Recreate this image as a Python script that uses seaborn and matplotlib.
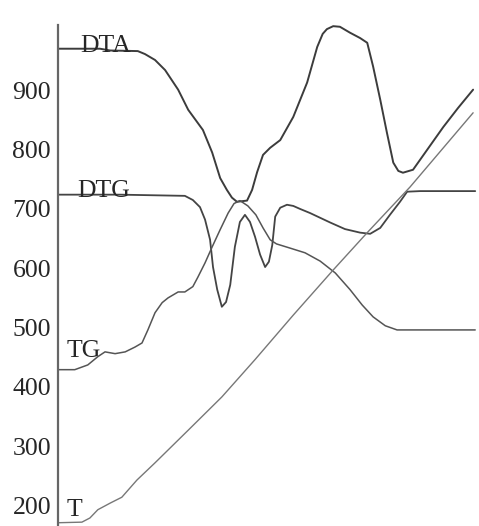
import numpy as np
import matplotlib.pyplot as plt
import pandas as pd
import seaborn as sns

# Thermal analysis curves (arbitrary x units)
dta_x = [0, 10, 12.4, 19, 20.7, 23.1, 25.5, 28.6, 31, 34.5, 36.7, 38.6, 40.2, 41.4,
         42.6, 45, 46.2, 47.4, 48.8, 50.5, 52.9, 56, 59.3, 61.7, 63, 64, 65.5, 67.1, 69.5,
         71.9, 73.6, 75, 76.7, 78.3, 79.8, 81, 82.1, 84.5, 87.9, 91.7, 95.2, 98.8]
dta_y = [970, 970, 967, 966, 961, 951, 934, 901, 867, 833, 795, 752, 732, 719,
         712, 714, 732, 762, 791, 803, 816, 855, 913, 973, 995, 1003, 1008, 1007, 997,
         988, 980, 940, 884, 828, 778, 764, 761, 766, 800, 838, 870, 901]

dtg_x = [0, 14.8, 30.2, 32.1, 33.8, 35, 36.2, 36.9, 37.9, 39, 40, 41, 42.1, 43.3,
         44.5, 45.7, 46.9, 48.1, 49.3, 50.2, 51, 51.7, 52.9, 54.5, 56, 57.6, 60,
         62.4, 64.8, 68.3, 71.9, 74.3, 76.7, 79, 81.4, 83.1, 86.2, 92.1, 99.3]
dtg_y = [724, 724, 722, 715, 703, 682, 648, 602, 564, 535, 543, 572, 636, 678,
         690, 678, 653, 623, 602, 611, 639, 687, 702, 707, 705, 700, 693,
         685, 677, 666, 660, 658, 668, 690, 712, 729, 730, 730, 730]

tg_x = [0, 4, 7.1, 9.5, 11.2, 13.6, 16, 18.3, 20, 21.4, 23.1, 24.8, 26.2, 28.6,
        30.2, 32.1, 33.3, 35, 36.7, 38.6, 40.5, 41.9, 43.3, 45.2, 47.1, 48.8,
        50.5, 52, 55.2, 58.8, 62.4, 66, 69.5, 72.4, 75, 77.9, 80.7, 85.5, 99.3]
tg_y = [429, 429, 437, 451, 459, 456, 459, 467, 474, 496, 525, 542, 550, 560,
        560, 569, 585, 609, 636, 665, 693, 709, 714, 705, 690, 668,
        648, 641, 634, 626, 612, 592, 564, 538, 518, 503, 496, 496, 496]

t_x = [0, 5.7, 7.6, 9.5, 12.4, 15.2, 18.8, 23.1, 31, 39, 46.9, 56, 65.5, 73.6,
       83.8, 98.8]
t_y = [171, 172, 179, 193, 204, 214, 243, 272, 327, 383, 446, 521, 597, 660,
       737, 862]

yticks = [200, 300, 400, 500, 600, 700, 800, 900]

sns.set_style('white')
plt.rcParams['font.family'] = ['Liberation Serif', 'DejaVu Serif']

fig = plt.figure(figsize=(4.79, 5.26), dpi=100)
ax = fig.add_axes([0.121, 0.0, 0.879, 0.9525])

sns.lineplot(x=dta_x, y=dta_y, ax=ax, color='#3c3c3c', lw=1.4, estimator=None, sort=False)
sns.lineplot(x=dtg_x, y=dtg_y, ax=ax, color='#444444', lw=1.3, estimator=None, sort=False)
sns.lineplot(x=tg_x, y=tg_y, ax=ax, color='#555555', lw=1.1, estimator=None, sort=False)
sns.lineplot(x=t_x, y=t_y, ax=ax, color='#777777', lw=1.0, estimator=None, sort=False)

ax.set_xlim(0, 100.2)
ax.set_ylim(165.5, 1010)
ax.set_xticks([])
ax.set_yticks(yticks)
ax.set_yticklabels([str(v) for v in yticks], fontsize=18.5)
ax.tick_params(axis='y', direction='in', length=4, width=1.5, color='#555555', pad=5)

for s in ['top', 'right', 'bottom']:
    ax.spines[s].set_visible(False)
ax.spines['left'].set_color('#666666')
ax.spines['left'].set_linewidth(1.6)

# curve names
ax.text(5.2, 965, 'DTA', fontsize=18.5, ha='left', va='baseline')
ax.text(4.5, 720, 'DTG', fontsize=18.5, ha='left', va='baseline')
ax.text(2.1, 450, 'TG', fontsize=18.5, ha='left', va='baseline')
ax.text(2.1, 182, 'T', fontsize=18.5, ha='left', va='baseline')

fig.savefig('out.png', dpi=100)
